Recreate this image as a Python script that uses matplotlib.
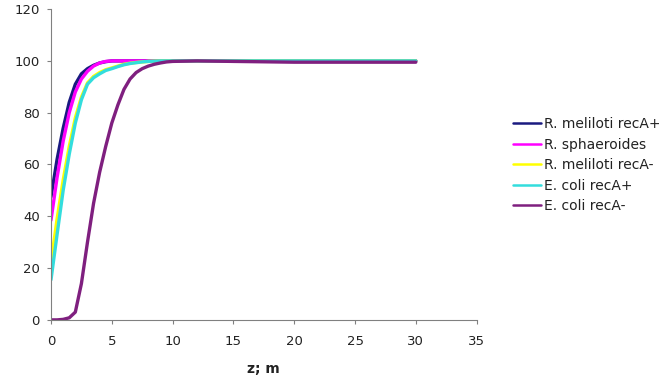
import matplotlib
matplotlib.use("Agg")
import matplotlib.pyplot as plt

# distance z (m)
z = [0, 0.5, 1, 1.5, 2, 2.5, 3, 3.5, 4, 4.5, 5, 5.5, 6, 6.5, 7, 7.5, 8, 8.5, 9, 9.5, 10,
     12, 15, 20, 25, 30]

meliloti_plus = [47.5, 62, 74, 84, 91, 95, 97, 98.3, 99.2, 99.7, 100, 100, 100, 100, 100, 100,
                 100, 100, 100, 100, 100, 100, 100, 100, 100, 100]
sphaeroides = [38.5, 55, 69, 80, 88, 93, 96, 98, 99.2, 99.8, 100, 100, 100, 100, 100, 100,
               100, 100, 100, 100, 100, 100, 100, 100, 100, 100]
meliloti_minus = [22, 39, 54, 67, 78, 86, 91.5, 94, 95.5, 96.6, 97.3, 98, 98.7, 99.1, 99.4, 99.6,
                  99.8, 99.9, 100, 100, 100, 100, 100, 100, 100, 100]
coli_plus = [15.5, 33, 50, 64, 76, 85, 91, 93.5, 95, 96.3, 97, 97.8, 98.5, 99, 99.3, 99.6,
             99.8, 99.9, 100, 100, 100, 100, 100, 100, 100, 100]
coli_minus = [0, 0, 0.2, 0.8, 3, 14, 30, 45, 57, 67, 76, 83, 89, 93, 95.5, 97,
              98, 98.7, 99.2, 99.6, 99.8, 100, 99.8, 99.5, 99.5, 99.5]

labels = ["R. meliloti recA+", "R. sphaeroides", "R. meliloti recA-", "E. coli recA+", "E. coli recA-"]
colors = ["#1a1a80", "#ff00ff", "#ffff00", "#33dddd", "#7f1f7f"]
series = [meliloti_plus, sphaeroides, meliloti_minus, coli_plus, coli_minus]

fig = plt.figure(figsize=(6.65, 3.79), dpi=100)
ax = fig.add_axes([0.0767, 0.156, 0.64, 0.82])

for vals, c, lab in zip(series, colors, labels):
    ax.plot(z, vals, color=c, lw=2.4, label=lab, solid_capstyle="round")

ax.set_xlim(0, 35)
ax.set_ylim(0, 120)
ax.set_xticks(range(0, 36, 5))
ax.set_yticks(range(0, 121, 20))
for s in ["top", "right"]:
    ax.spines[s].set_visible(False)
for s in ["left", "bottom"]:
    ax.spines[s].set_color("#808080")
ax.tick_params(colors="#808080", labelcolor="#222222", labelsize=9.5, length=3, direction="out")
ax.tick_params(axis="x", pad=8)
ax.tick_params(axis="y", pad=5)
ax.set_xlabel("z; m", fontsize=10, fontweight="bold", labelpad=10, color="#222222")

leg = fig.legend(loc="upper left", bbox_to_anchor=(0.753, 0.724), frameon=False, fontsize=10,
                 handlelength=2.0, handletextpad=0.25, labelspacing=0.47)
for line in leg.get_lines():
    line.set_linewidth(1.8)
for t in leg.get_texts():
    t.set_color("#222222")

fig.savefig("out.png", dpi=100)
